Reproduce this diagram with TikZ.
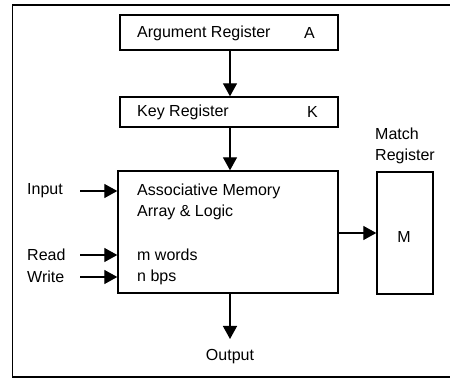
\documentclass[tikz,border=0pt]{standalone}
\usepackage{fontspec}
\setmainfont{Liberation Sans}
\usetikzlibrary{arrows.meta}
\begin{document}
\begin{tikzpicture}[x=1pt,y=-1pt,
  box/.style={draw,line width=1.4pt,inner sep=0pt,anchor=center},
  lbl/.style={inner sep=0pt,anchor=west,font=\fontsize{16}{19}\selectfont},
  conn/.style={line width=1.3pt,-{Triangle[length=13pt,width=14pt]}}]
\useasboundingbox (0,0) rectangle (450,379);
% open frame around the diagram
\draw[line width=1.7pt] (450,5) -- (12.5,5) -- (12.5,377) -- (450,377);

% registers and memory array
\node[box,minimum width=218pt,minimum height=35pt] (arg) at (229,32.5) {};
\node[box,minimum width=218pt,minimum height=30pt] (key) at (229,112) {};
\node[box,minimum width=220pt,minimum height=122pt] (mem) at (228,232) {};
\node[box,minimum width=56pt,minimum height=122pt] (mreg) at (405,233) {};

% texts
\node[lbl] (argt) at (137,33) {Argument Register};
\node[lbl] (argA) at (304,33) {A};
\node[lbl] (keyt) at (137,112) {Key Register};
\node[lbl] (keyK) at (307,112) {K};
\node[lbl] (mt1) at (375,134) {Match};
\node[lbl] (mt2) at (375,156) {Register};
\node[lbl] (memt1) at (137,191) {Associative Memory};
\node[lbl] (memt2) at (137,212) {Array \& Logic};
\node[lbl] (memt3) at (137,255) {m words};
\node[lbl] (memt4) at (137,277) {n bps};
\node[lbl,anchor=center] (mM) at (404,237) {M};
\node[lbl] (inp) at (27,191) {Input};
\node[lbl] (rd) at (27,255) {Read};
\node[lbl] (wr) at (27,277) {Write};
\node[lbl,anchor=center] (out) at (230,357) {Output};
\coordinate (outend) at (230,339);

% connectors
\draw[conn] (arg.south -| 230,0) -- (key.north -| 230,0);
\draw[conn] (key.south -| 230,0) -- (mem.north -| 230,0);
\draw[conn] (mem.east |- 0,233) -- (mreg.west |- 0,233);
\draw[conn] (80,0 |- inp.west) -- (mem.west |- inp.west);
\draw[conn] (80,0 |- rd.west) -- (mem.west |- rd.west);
\draw[conn] (80,0 |- wr.west) -- (mem.west |- wr.west);
\draw[conn] (mem.south -| outend) -- (outend);
\end{tikzpicture}
\end{document}
